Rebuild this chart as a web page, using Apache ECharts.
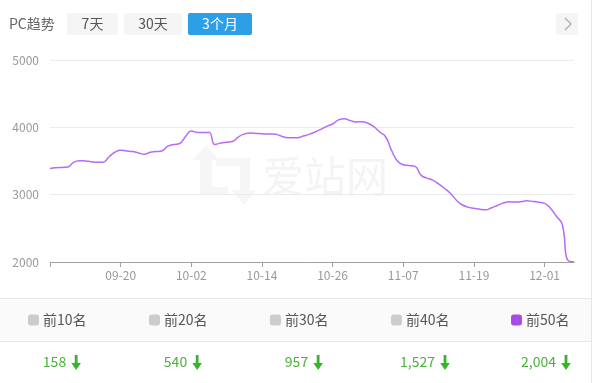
<!DOCTYPE html>
<html><head><meta charset="utf-8">
<script src="https://cdn.jsdelivr.net/npm/echarts@6/dist/echarts.min.js"></script>
<style>html,body{margin:0;padding:0;background:#fff}#c{width:601px;height:383px}</style>
</head><body><div id="c"></div>
<script>
const dates = [
 '09-08','09-09','09-10','09-11','09-12','09-13','09-14','09-15','09-16','09-17','09-18','09-19',
 '09-20','09-21','09-22','09-23','09-24','09-25','09-26','09-27','09-28','09-29','09-30','10-01',
 '10-02','10-03','10-04','10-05','10-06','10-07','10-08','10-09','10-10','10-11','10-12','10-13',
 '10-14','10-15','10-16','10-17','10-18','10-19','10-20','10-21','10-22','10-23','10-24','10-25',
 '10-26','10-27','10-28','10-29','10-30','10-31','11-01','11-02','11-03','11-04','11-05','11-06',
 '11-07','11-08','11-09','11-10','11-11','11-12','11-13','11-14','11-15','11-16','11-17','11-18',
 '11-19','11-20','11-21','11-22','11-23','11-24','11-25','11-26','11-27','11-28','11-29','11-30',
 '12-01','12-02','12-03','12-04','12-05','12-06'
];
const top50 = [
 3390,3400,3405,3410,3480,3505,3500,3490,3482,3480,3560,3630,
 3660,3650,3640,3620,3600,3630,3640,3650,3720,3745,3760,3860,
 3945,3925,3922,3926,3745,3768,3780,3790,3860,3900,3915,3910,
 3905,3900,3902,3880,3850,3845,3846,3870,3895,3930,3970,4015,
 4050,4110,4128,4100,4080,4084,4060,4010,3930,3860,3660,3500,
 3445,3432,3420,3290,3245,3215,3160,3095,3020,2920,2850,2815,
 2798,2785,2775,2805,2840,2875,2893,2890,2895,2908,2900,2888,
 2870,2800,2680,2560,2020,2004
];
const legendNames = ['前10名','前20名','前30名','前40名','前50名'];
const latestValues = [158, 540, 957, 1527, 2004];
const yTicks = [2000, 3000, 4000, 5000];
const tabs = ['7天', '30天', '3个月'];
const title = 'PC趋势';
const watermark = '爱站网';

const FF = '"Noto Sans CJK SC","Noto Sans",sans-serif';
const chart = echarts.init(document.getElementById('c'), null, {renderer: 'canvas'});

const meas = document.createElement('canvas').getContext('2d');
function textW(t, size) { meas.font = size + 'px ' + FF; return meas.measureText(t).width; }

const graphics = [];
graphics.push({type:'line', shape:{x1:591.5,y1:0,x2:591.5,y2:383}, style:{stroke:'#e6e6e6', lineWidth:1}, silent:true});
graphics.push({type:'text', x:9, y:24, style:{text:title, font:'14px '+FF, fill:'#666', align:'left', verticalAlign:'middle', textAlign:'left', textVerticalAlign:'middle'}});
const tabBoxes = [[67,51],[124,58],[188,64]];
tabs.forEach((t,i) => {
  const [x,w] = tabBoxes[i];
  const active = i === tabs.length - 1;
  graphics.push({type:'rect', shape:{x:x,y:13,width:w,height:22,r:2}, style:{fill: active ? '#2d9fe6' : '#f5f5f5'}});
  graphics.push({type:'text', x:x+w/2, y:24, style:{text:t, font:'14px '+FF, fill: active ? '#fff' : '#555', align:'center', verticalAlign:'middle', textAlign:'center', textVerticalAlign:'middle'}});
});
graphics.push({type:'rect', shape:{x:556,y:13,width:22,height:22,r:1}, style:{fill:'#f5f5f5'}});
graphics.push({type:'polyline', shape:{points:[[565,18],[571,24],[565,30]]}, style:{stroke:'#aaa', lineWidth:1.2, fill:null}});
graphics.push({type:'polygon', shape:{points:[[206,145],[219,160],[212,160],[212,187],[228,187],[228,195],[200,195],[200,160],[193,160]]}, style:{fill:'#f6f6f6'}, z:-1});
graphics.push({type:'polygon', shape:{points:[[216,158],[250,158],[250,190],[256,190],[244,205],[232,190],[240,190],[240,166],[216,166]]}, style:{fill:'#f6f6f6'}, z:-1});
graphics.push({type:'text', x:262, y:176, z:-1, style:{text:watermark, font:'42px '+FF, fill:'#f4f4f4', align:'left', verticalAlign:'middle', textAlign:'left', textVerticalAlign:'middle'}});
graphics.push({type:'rect', shape:{x:0,y:298,width:591,height:43}, style:{fill:'#fafafa'}, z:-2});
graphics.push({type:'line', shape:{x1:0,y1:298.5,x2:591,y2:298.5}, style:{stroke:'#e8e8e8', lineWidth:1}});
graphics.push({type:'line', shape:{x1:0,y1:341.5,x2:591,y2:341.5}, style:{stroke:'#e8e8e8', lineWidth:1}});
const valueCenters = [62, 183, 304, 425, 546];
latestValues.forEach((v,i) => {
  const s = v.toLocaleString('en-US');
  const tw = textW(s, 14);
  const gw = tw + 5 + 10;
  const x0 = valueCenters[i] - gw/2;
  graphics.push({type:'text', x:x0, y:362, style:{text:s, font:'14px '+FF, fill:'#4cb13b', align:'left', verticalAlign:'middle', textAlign:'left', textVerticalAlign:'middle'}});
  const ax = x0 + tw + 5 + 5;
  graphics.push({type:'polygon', shape:{points:[[ax-1.4,355],[ax+1.4,355],[ax+1.4,363],[ax+4.8,363],[ax,370],[ax-4.8,363],[ax-1.4,363]]}, style:{fill:'#35b52c'}});
});

const legendLefts = [28, 149, 270, 391, 511];
const legends = legendNames.map((n,i) => ({
  data:[n], left: legendLefts[i], top: 313, padding: 0, orient:'horizontal',
  icon:'roundRect', itemWidth: 11, itemHeight: 11, itemGap: 0,
  selectedMode: false,
  textStyle:{color:'#555', fontSize:14, fontFamily:FF, padding:[0,0,0,-1]}
}));

const series = legendNames.map((n,i) => {
  const isMain = i === legendNames.length - 1;
  return {
    name: n, type:'line', smooth: true, showSymbol: false, symbol:'none',
    data: isMain ? top50 : [],
    itemStyle: {color: isMain ? '#a64de8' : '#cccccc'},
    lineStyle: {color: isMain ? '#b56cf2' : '#cccccc', width: 1.5},
    animation: false
  };
});

chart.setOption({
  animation: false,
  backgroundColor: '#fff',
  grid: {left: 50, right: 27, top: 60, bottom: 121, containLabel: false},
  legend: legends,
  tooltip: {show: false},
  xAxis: {
    type:'category', data: dates, boundaryGap: false,
    axisLine: {lineStyle: {color:'#a0a0a0'}},
    axisTick: {show:true, interval: 11, length: 5, lineStyle:{color:'#a0a0a0'}},
    axisLabel: {color:'#999', fontSize:12, fontFamily:FF, margin: 7,
      interval: (idx) => idx > 0 && idx % 12 === 0},
    splitLine: {show:false}
  },
  yAxis: {
    type:'value', min: yTicks[0], max: yTicks[yTicks.length-1], interval: yTicks[1]-yTicks[0],
    axisLine:{show:false}, axisTick:{show:false},
    axisLabel:{color:'#999', fontSize:12, fontFamily:FF, margin: 11, formatter: (v) => String(v)},
    splitLine:{lineStyle:{color:'#ebebeb'}}
  },
  series: series,
  graphic: {elements: graphics}
});
</script></body></html>
